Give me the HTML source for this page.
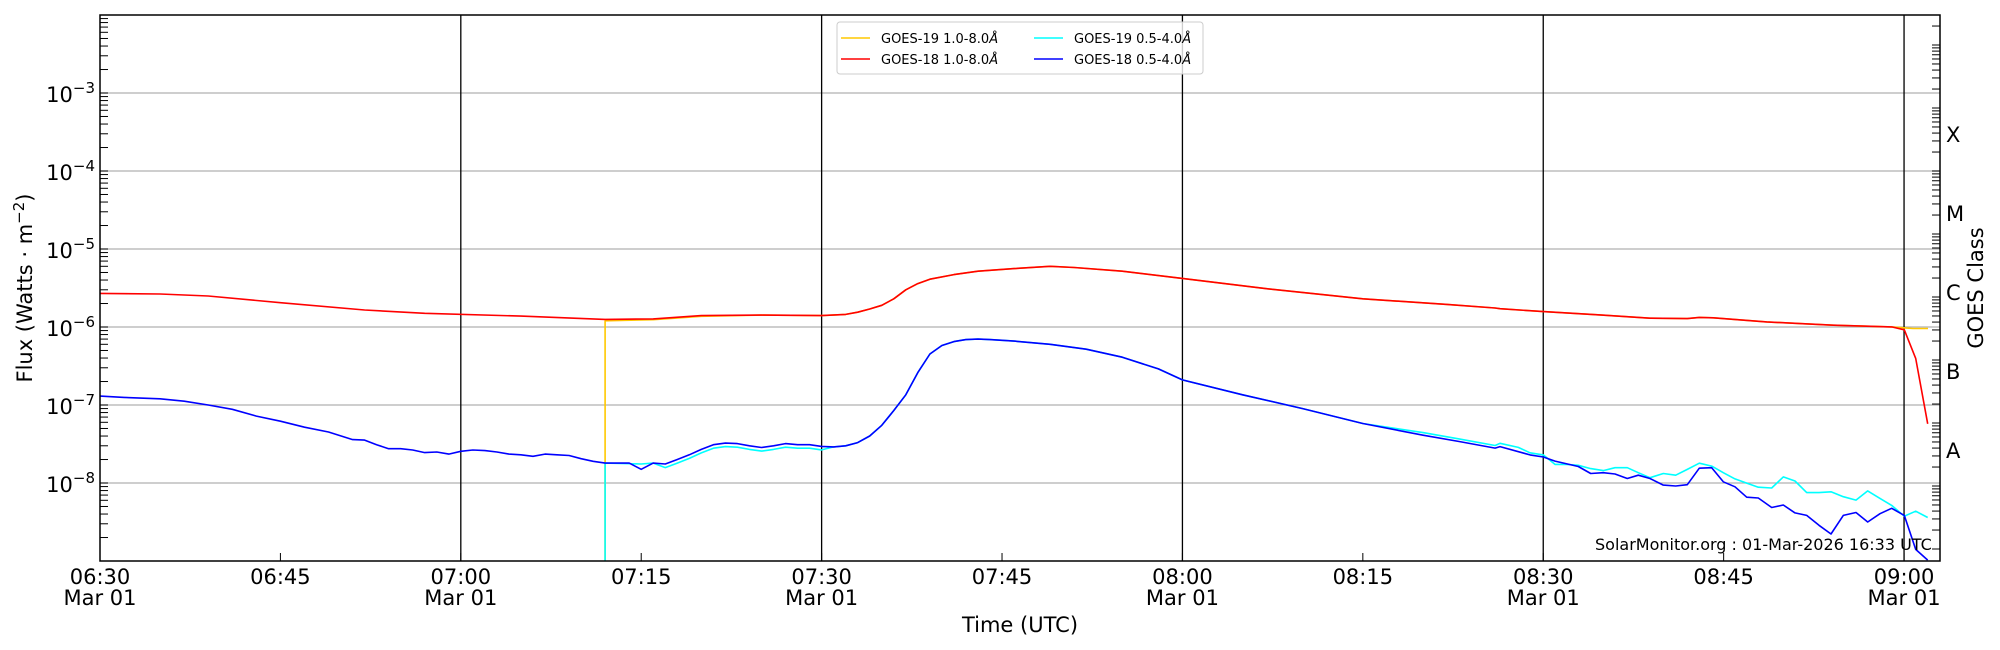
<!DOCTYPE html>
<html><head><meta charset="utf-8"><style>
html,body{margin:0;padding:0;background:#fff;}
svg{display:block;font-family:"DejaVu Sans","Liberation Sans",sans-serif;}
</style></head><body>
<svg id="s" width="2000" height="650" viewBox="0 0 2000 650" xmlns="http://www.w3.org/2000/svg">
<rect width="2000" height="650" fill="#fff"/>
<g id="grid"></g>
<g id="data" fill="none" stroke-width="1.6" stroke-linejoin="round"></g>
<g id="ticks" stroke="#000" stroke-width="1"></g>
<rect x="100" y="15" width="1840" height="546" fill="none" stroke="#000" stroke-width="1.5"/>
<g id="labels" font-size="21" fill="#000"></g>
<text x="1595" y="550" font-size="16">SolarMonitor.org : 01-Mar-2026 16:33 UTC</text>
<text x="1020" y="632" font-size="21" text-anchor="middle">Time (UTC)</text>
<text transform="translate(32,288) rotate(-90)" font-size="21" text-anchor="middle">Flux (Watts · m<tspan dy="-8" font-size="15">−2</tspan><tspan dy="8">)</tspan></text>
<text transform="translate(1983,288) rotate(-90)" font-size="21" text-anchor="middle">GOES Class</text>
<g font-size="21">
<text x="1946" y="142">X</text><text x="1946" y="221">M</text><text x="1946" y="300">C</text><text x="1946" y="379">B</text><text x="1946" y="458">A</text>
</g>
<g>
<rect x="837" y="22" width="366" height="52" rx="3" fill="#fff" fill-opacity="0.8" stroke="#ccc"/>
<line x1="841" y1="38" x2="870" y2="38" stroke="#ffc800" stroke-width="1.5"/>
<line x1="841" y1="59" x2="870" y2="59" stroke="#ff0000" stroke-width="1.5"/>
<line x1="1034" y1="38" x2="1063" y2="38" stroke="#00ffff" stroke-width="1.5"/>
<line x1="1034" y1="59" x2="1063" y2="59" stroke="#0000ff" stroke-width="1.5"/>
<g font-size="13">
<text x="881" y="43">GOES-19 1.0-8.0<tspan font-style="italic">Å</tspan></text>
<text x="881" y="64">GOES-18 1.0-8.0<tspan font-style="italic">Å</tspan></text>
<text x="1074" y="43">GOES-19 0.5-4.0<tspan font-style="italic">Å</tspan></text>
<text x="1074" y="64">GOES-18 0.5-4.0<tspan font-style="italic">Å</tspan></text>
</g>
</g>
</svg>
<script>
const NS="http://www.w3.org/2000/svg";
function el(p,t,a,txt){const e=document.createElementNS(NS,t);for(const k in a)e.setAttribute(k,a[k]);if(txt!==undefined)e.textContent=txt;document.getElementById(p).appendChild(e);return e;}
const X=m=>100+12.027*m, Y=v=>15+78*(-2-Math.log10(v));
for(let d=-3;d>=-8;d--){const y=Y(Math.pow(10,d));el('grid','line',{x1:100,x2:1940,y1:y,y2:y,stroke:'#b0b0b0','stroke-width':1.2});}
for(const m of [30,60,90,120,150]){el('grid','line',{x1:X(m),x2:X(m),y1:15,y2:561,stroke:'#000','stroke-width':1.3});}
for(let d=-9;d<-2;d++){for(let k=1;k<10;k++){const y=Y(k*Math.pow(10,d));if(y<15||y>561)continue;el('ticks','line',{x1:100,x2:108,y1:y,y2:y});}}
for(let d=0;d<9;d++){const y0=45+d*63;for(let k=1;k<10;k++){const y=y0-63*Math.log10(k);if(y<15||y>561)continue;el('ticks','line',{x1:1932,x2:1940,y1:y,y2:y});}}
for(let m=0;m<=150;m+=15){el('ticks','line',{x1:X(m),x2:X(m),y1:561,y2:553});}
for(let d=-3;d>=-8;d--){const t=el('labels','text',{x:95,y:Y(Math.pow(10,d))+9,'text-anchor':'end'});t.innerHTML='10<tspan dy="-9" font-size="15">−'+(-d)+'</tspan>';}
const tl=["06:30","06:45","07:00","07:15","07:30","07:45","08:00","08:15","08:30","08:45","09:00"];
tl.forEach((s,i)=>{const x=X(i*15);el('labels','text',{x:x,y:584,'text-anchor':'middle'},s);if(i%2==0)el('labels','text',{x:x,y:605,'text-anchor':'middle'},"Mar 01");});
const red=[[0,2.7e-6],[5,2.65e-6],[9,2.5e-6],[15,2.05e-6],[22,1.65e-6],[27,1.5e-6],[35,1.38e-6],[42,1.25e-6],[46,1.27e-6],[50,1.4e-6],[55,1.42e-6],[60,1.4e-6],[62,1.45e-6],[63,1.55e-6],[64,1.7e-6],[65,1.9e-6],[66,2.3e-6],[67,3.0e-6],[68,3.6e-6],[69,4.1e-6],[71,4.7e-6],[73,5.2e-6],[76,5.6e-6],[79,6e-6],[81,5.8e-6],[85,5.2e-6],[90,4.2e-6],[97,3.1e-6],[105,2.3e-6],[112,1.95e-6],[116,1.75e-6]];
const toPix=a=>a.map(p=>[X(p[0]),Y(p[1])]);
const z=a=>a.map(p=>[1500+p[0]/3,p[1]*0.4143]);
const redTail=z([[0,745],[130,752],[300,760],[450,768],[562,769],[598,766],[640,767],[800,777],[900,781],[1000,785],[1175,789],[1213,796],[1247,865],[1283,1023]]);
const redPix=toPix(red).concat(redTail);
const yelPix=[[X(42),561],[X(42),Y(1.2e-6)],[X(46),Y(1.24e-6)],[X(50),Y(1.37e-6)]].concat(toPix(red.slice(10))).concat(redTail.slice(0,11)).concat([[1913,793*0.4143],[1928,793*0.4143]]);
const blue=[[0,1.3e-7],[2,1.25e-7],[5,1.2e-7],[7,1.12e-7],[9,1.0e-7],[11,8.8e-8],[13,7.2e-8],[15,6.2e-8],[17,5.2e-8],[19,4.5e-8],[21,3.6e-8],[22,3.55e-8],[23,3.1e-8],[24,2.75e-8],[25,2.75e-8],[26,2.65e-8],[27,2.45e-8],[28,2.5e-8],[29,2.35e-8],[30,2.55e-8],[31,2.65e-8],[32,2.6e-8],[33,2.5e-8],[34,2.35e-8],[35,2.3e-8],[36,2.2e-8],[37,2.35e-8],[38,2.3e-8],[39,2.25e-8],[40,2.05e-8],[41,1.9e-8],[42,1.8e-8],[43,1.8e-8],[44,1.8e-8],[45,1.5e-8],[46,1.8e-8],[47,1.75e-8],[48,2.0e-8],[49,2.3e-8],[50,2.7e-8],[51,3.1e-8],[52,3.25e-8],[53,3.2e-8],[54,3.0e-8],[55,2.85e-8],[56,3.0e-8],[57,3.2e-8],[58,3.1e-8],[59,3.1e-8],[60,2.95e-8],[61,2.9e-8],[62,3.0e-8],[63,3.3e-8],[64,4.0e-8],[65,5.5e-8],[66,8.5e-8],[67,1.35e-7],[68,2.6e-7],[69,4.5e-7],[70,5.8e-7],[71,6.5e-7],[72,6.9e-7],[73,7e-7],[74,6.9e-7],[76,6.6e-7],[79,6.0e-7],[82,5.2e-7],[85,4.1e-7],[88,2.9e-7],[90,2.1e-7],[95,1.35e-7],[100,9.0e-8],[105,5.8e-8],[110,4.1e-8],[113,3.4e-8],[116,2.8e-8]];
const blueTail=z([[0,1078],[90,1098],[130,1103],[165,1113],[235,1126],[272,1143],[310,1141],[345,1144],[382,1155],[415,1147],[450,1155],[490,1171],[527,1173],[562,1170],[598,1130],[635,1129],[670,1163],[705,1175],[740,1200],[775,1202],[815,1225],[850,1219],[885,1238],[920,1244],[957,1268],[993,1289],[1030,1244],[1068,1237],[1103,1260],[1140,1240],[1175,1227],[1213,1244],[1247,1326],[1283,1352]]);
const bluePix=toPix(blue).filter(p=>p[0]<1499).concat(blueTail);
const cyanEarly=blue.filter(p=>p[0]>=46).map(p=>[p[0],(p[0]>=47&&p[0]<=60)?p[1]*0.9:(p[0]>=108?p[1]*1.08:p[1])]);
const cyanTail=z([[0,1070],[55,1080],[90,1093],[130,1098],[165,1121],[200,1121],[235,1123],[272,1131],[310,1136],[345,1129],[382,1129],[415,1141],[450,1153],[490,1143],[527,1147],[562,1133],[598,1118],[635,1125],[670,1141],[705,1156],[740,1166],[775,1176],[815,1178],[850,1151],[885,1161],[920,1189],[957,1189],[993,1187],[1030,1199],[1068,1207],[1103,1185],[1140,1203],[1175,1220],[1213,1246],[1247,1234],[1283,1249]]);
const cyanPix=[[X(42),561],[X(42),Y(1.8e-8)],[X(45),Y(1.75e-8)]].concat(toPix(cyanEarly).filter(p=>p[0]<1499)).concat(cyanTail);
function pl(pts,c){el('data','polyline',{points:pts.map(p=>p[0].toFixed(1)+','+p[1].toFixed(1)).join(' '),stroke:c});}
pl(yelPix,'#ffc800');pl(cyanPix,'#00ffff');pl(redPix,'#ff0000');pl(bluePix,'#0000ff');
</script>
</body></html>
